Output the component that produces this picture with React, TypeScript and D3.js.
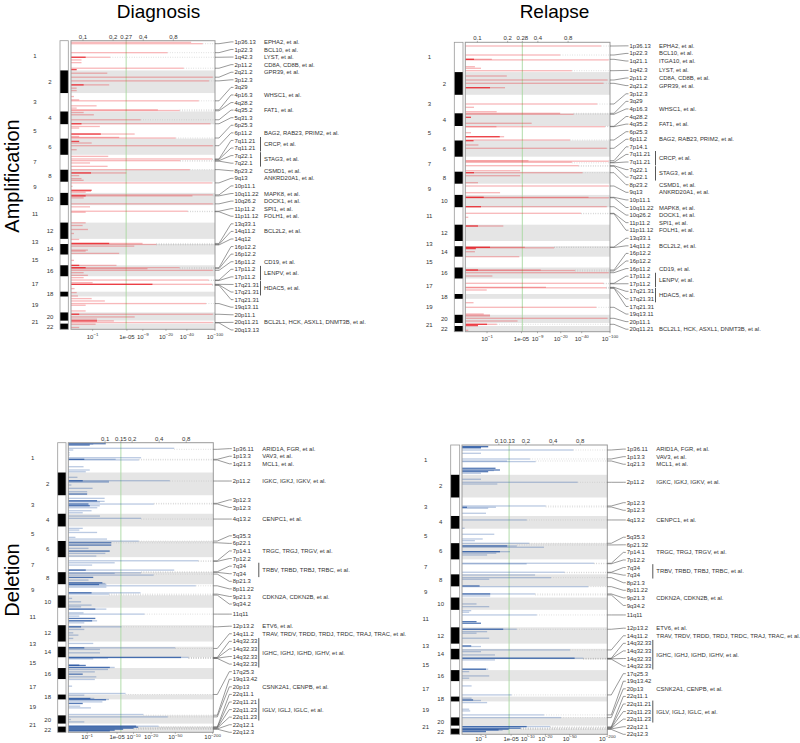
import React from 'react';
import * as d3 from 'd3';

type Bar = number[];
type Peak = [number, string];
type Gene = [number, number, string];

// relative chromosome sizes (marker units)
const CHROM_SIZES = [29.8, 22.7, 18.5, 12.7, 14.5, 16.2, 15, 12, 11.2, 12.3, 17.5, 16.3, 5.2, 10.5, 10.8, 11, 15.5, 4.8, 16, 8.2, 3, 5.7];

// ---------- Diagnosis amplification ----------
const DX_AMP_BARS: Bar[] = [
  [1.6,46],[3.0,67],[12,21],[16.6,0.6,1],[16.6,2.5],[19.3,0.4],[22,0.4],[27.6,36],[29,0.2,1],[32.6,2.2],[36.6,93],[40.3,82],[44.3,2.4],[44.3,0.5,1],[47.6,0.2],[50,0.2],[56,0.1],[59.3,0.3],[60.3,59],[65.3,1.27],[67.6,0.2],[69.3,15.2],[70,31.5],[72,0.5],[74.3,1.08],[79.3,8.3],[83.3,86],[83.3,0.4,1],[86,1.52],[87.6,0.3],[93.6,6.7],[93.6,1.6,1],[96,0.3],[97,3.68],[97.6,27.6],[101,0.3,1],[102.6,0.94],[105.3,93],[109.3,0.2],[116,2.3],[118.6,91],[120.3,32],[122.6,0.84],[126,2.23],[129.3,44],[132.6,4.9],[132.6,0.9,1],[135.3,0.3],[138.3,0.4],[140,0.5],[142.6,91],[146,0.05],[150,0.94,1],[151,0.9],[152,0.6],[154.6,93],[155.6,48],[155.6,0.6,1],[157.6,0.5],[163.6,93],[166.6,0.84],[171,41],[172,0.6],[182.6,0.6],[185.3,0.45],[189.3,0.72],[193.3,0.1],[199.3,0.3],[203.3,2.4,1],[203.3,8.9],[204.3,14.4],[206,6.6],[210,0.72],[211,0.6],[213.3,3.68],[220.3,0.1],[225.3,3.3],[225.3,0.3,1],[227.6,31.5],[227.6,0.6,1],[228.6,10.6],[230.3,93],[232.6,0.5],[235.3,0.72],[237.6,0.5],[240,81],[242.6,1.0],[244.3,91],[244.3,12.6,1],[248.6,0.12],[252.6,0.2],[256,0.25],[258.6,0.94],[261,1.96],[263.6,75],[265.3,0.6],[271,0.6],[274.3,93],[274.3,0.3,1],[277,6.7],[279.3,1.3],[281,2.95],[281,1.3,1],[282.6,93],[284.3,1.2],[287.6,0.3]
];
const DX_AMP_PEAKS: Peak[] = [
  [3.0,'1p36.13'],[12,'1p22.3'],[16.6,'1q42.3'],[27.6,'2p11.2'],[36.6,'2q21.2'],[40.3,'3p12.3'],[60.3,'3q29'],[69.3,'4p16.3'],[70.3,'4q28.2'],[79.3,'4q35.2'],[83.3,'5q31.3'],[97.6,'6p25.3'],[105.3,'6p11.2'],[118.6,'7q11.21'],[119.1,'7q11.21'],[120.3,'7q22.1'],[120.8,'7q22.1'],[129.3,'8p23.2'],[142.6,'9q13'],[154.6,'10p11.1'],[155.6,'10q11.22'],[163.6,'10q26.2'],[171,'11p11.2'],[171.5,'11p11.12'],[203.3,'13q33.1'],[204.3,'14q11.2'],[204.8,'14q12'],[227.6,'16p12.2'],[228.6,'16p12.2'],[230.3,'16p11.2'],[240,'17p11.2'],[240.5,'17p11.2'],[244.3,'17q21.31'],[244.8,'17q21.31'],[245.3,'17q21.31'],[263.6,'19q13.11'],[274.3,'20p11.1'],[282.6,'20q11.21'],[283,'20q13.13']
];
const DX_AMP_GENES: Gene[] = [
  [0,0,'EPHA2, et al.'],[1,1,'BCL10, et al.'],[2,2,'LYST, et al.'],[3,3,'CD8A, CD8B, et al.'],[4,4,'GPR39, et al.'],[7,7,'WHSC1, et al.'],[9,9,'FAT1, et al.'],[12,12,'BAG2, RAB23, PRIM2, et al.'],[13,14,'CRCP, et al.'],[15,16,'STAG3, et al.'],[17,17,'CSMD1, et al.'],[18,18,'ANKRD20A1, et al.'],[20,20,'MAPK8, et al.'],[21,21,'DOCK1, et al.'],[22,22,'SPI1, et al.'],[23,23,'FOLH1, et al.'],[25,25,'BCL2L2, et al.'],[29,29,'CD19, et al.'],[30,31,'LENPV, et al.'],[32,33,'HDAC5, et al.'],[37,37,'BCL2L1, HCK, ASXL1, DNMT3B, et al.']
];

// ---------- Relapse amplification ----------
const RL_AMP_BARS: Bar[] = [
  [3.7,75],[12.7,19.6],[17,0.32,1],[17,1.33],[17.6,96],[24.4,0.36],[26,0.65],[28.4,28.9],[33.7,2.76],[37.7,92],[41,81],[45.4,2.55],[45.4,1.2,1],[61.7,66],[65,0.32],[69.4,1.72],[71,19.6],[72,30.6],[75,0.2,1],[81,7.3],[84.4,85],[84.4,1.7],[90.4,0.2],[94.4,2.45],[94.4,2.0,1],[97.7,27.2],[98.4,0.3,1],[102.7,0.52],[106,90],[118.4,6.5],[118.9,96],[120,28.9],[123.4,36],[128.4,4.75],[130.4,41],[130.4,0.32,1],[133.4,4.75],[140.4,0.5],[143.7,96],[150.4,2.03],[155,50],[155,0.8,1],[155.5,96],[164.4,0.65,1],[164.4,90],[171,39],[175,0.1],[183.7,0.5,1],[183.7,2.36],[205,1.2,1],[205,5.7],[205.5,16],[206.3,0.4,1],[209.4,0.36],[214.4,4.6],[227.7,0.5,1],[227.7,10.1],[228.2,32],[230.4,96],[233.7,1.37],[241,81],[245,12.1],[245.5,88],[247.7,0.98],[260.4,0.3],[265,64],[271.7,0.8],[272.7,1.2],[273.7,1.2],[276,92],[278.7,4.3],[282,1.0,1],[282,1.73],[283.3,0.5,1],[288,0.1]
];
const RL_AMP_PEAKS: Peak[] = [
  [3.7,'1p36.13'],[12.7,'1p22.3'],[17,'1q21.1'],[28.4,'1q42.3'],[37.7,'2p11.2'],[41,'2q21.2'],[61.7,'3p12.3'],[71,'3q29'],[72,'4p16.3'],[84,'4q28.2'],[84.4,'4q35.2'],[97.7,'6p25.3'],[106,'6p11.2'],[118.4,'7p14.1'],[120,'7q11.21'],[120.5,'7q11.21'],[123.4,'7q22.1'],[123.9,'7q22.1'],[130.4,'8p23.2'],[143.7,'9q13'],[155,'10p11.1'],[155.5,'10q11.22'],[164.4,'10q26.2'],[171,'11p11.2'],[171.5,'11p11.12'],[204.7,'13q33.1'],[205.2,'14q11.2'],[227.7,'16p12.2'],[228.7,'16p12.2'],[230.4,'16p11.2'],[241,'17p11.2'],[241.5,'17p11.2'],[245,'17q21.31'],[245.5,'17q21.31'],[246,'17q21.31'],[265,'19q13.11'],[276,'20p11.1'],[282,'20q11.21']
];
const RL_AMP_GENES: Gene[] = [
  [0,0,'EPHA2, et al.'],[1,1,'BCL10, et al.'],[2,2,'ITGA10, et al.'],[3,3,'LYST, et al.'],[4,4,'CD8A, CD8B, et al.'],[5,5,'GPR39, et al.'],[8,8,'WHSC1, et al.'],[10,10,'FAT1, et al.'],[12,12,'BAG2, RAB23, PRIM2, et al.'],[14,15,'CRCP, et al.'],[16,17,'STAG3, et al.'],[18,18,'CSMD1, et al.'],[19,19,'ANKRD20A1, et al.'],[21,21,'MAPK8, et al.'],[22,22,'DOCK1, et al.'],[23,23,'SPI1, et al.'],[24,24,'FOLH1, et al.'],[26,26,'BCL2L2, et al.'],[29,29,'CD19, et al.'],[30,31,'LENPV, et al.'],[32,33,'HDAC5, et al.'],[37,37,'BCL2L1, HCK, ASXL1, DNMT3B, et al.']
];

// ---------- Diagnosis deletion ----------
const DX_DEL_BARS: Bar[] = [
  [1,2.96,1],[1.5,1.5],[2.3,1.2,1],[5.6,48],[7.3,0.2],[10,0.05],[12.3,0.05],[15,13.5],[16.6,4.7],[17.2,12.3],[16.6,0.8,1],[24,0.75],[27.3,1.2],[29,0.9],[34.6,0.4],[38,40.7],[38.6,3.46],[38,0.7,1],[39.6,3.46],[42.3,0.12],[45.6,1.44],[49,1.0],[51.3,1.0,1],[55.6,2.8],[58,1.88,1],[58.6,2.8],[59.3,2.2],[61.3,22.1],[61.3,1.1,1],[63,2.18],[63,1.2,1],[65,1.9],[68,1.35],[70,0.7],[73.3,2.2],[75.6,13.5],[85.6,0.7],[87.3,0.5],[89.7,1.88],[94.6,0.3],[96.3,3.15],[98.3,12.3],[100,3.85,1],[102.3,3.85,1],[105.6,1.1],[108.3,3.58,1],[110.6,2.9],[113.3,1.8],[118,118],[120,4.5],[122.3,1.4],[127.3,48],[127.3,0.9,1],[130,13.5],[130.6,4.5],[132.3,22],[134.6,1.5,1],[137.3,1.1],[140,2.5,1],[140.7,2.9],[141.7,3.05],[141.7,2.1,1],[143,107],[144.3,3.05],[150,13.2],[150,1.35,1],[151.3,3.46],[155.6,0.15],[159,0.6],[162.3,1.35],[164,0.6],[166.3,3.05],[166.3,1.7,1],[170,0.75],[171.3,15.4],[173.3,0.5],[175.6,1.7,1],[178,1.88],[178,1.4,1],[180,0.8],[184,6],[184,0.6,1],[186.6,0.8],[190,0.2],[192.3,0.45],[195.6,0.2],[200.6,1.5],[205,50],[205,0.8,1],[206.6,2.2],[210,2.2],[214.6,82],[214.6,62,1],[215.3,3.3],[216,1.5],[222.3,0.5,1],[222.6,0.9,1],[224.6,4.5],[224.6,3.6,1],[226.6,3.3],[229,1.65],[231.3,0.7,1],[234,1.8],[236.6,1.65],[243.3,0.15],[250.6,7.2],[252.3,0.8],[255.6,1.6],[255.6,1.25,1],[256.6,3.46],[256.9,3.0,1],[259,2.5],[260.6,0.7,1],[263.3,0.55],[265,1.3],[271.6,14.8],[274,37.5],[276.6,0.1],[279,0.8],[283.3,11.1,1],[283.3,26.6],[284.3,12,1],[285.3,10,1],[286.3,6.5,1],[287.3,4.5,1],[288,3.6,1]
];
const DX_DEL_PEAKS: Peak[] = [
  [6.6,'1p36.11'],[16.6,'1p13.3'],[17.3,'1q21.3'],[38.3,'2p11.2'],[60.6,'3p12.3'],[61.3,'3p12.3'],[76.3,'4q13.2'],[98.3,'5q35.3'],[100,'6p22.1'],[118,'7p14.1'],[118.6,'7p12.2'],[129,'7q34'],[129.6,'7q34'],[131.3,'8p21.3'],[143,'8p11.22'],[151.3,'9p21.3'],[152.3,'9q34.2'],[171.3,'11q11'],[184,'12p13.2'],[205.6,'14q11.2'],[214.6,'14q32.33'],[215,'14q32.33'],[215.3,'14q32.33'],[215.6,'14q32.33'],[251.6,'17q25.3'],[272.3,'19q13.42'],[274,'20p13'],[284,'22q11.1'],[284.3,'22q11.21'],[285,'22q11.23'],[285.3,'22q11.23'],[286,'22q12.1'],[286.3,'22q12.3']
];

// ---------- Relapse deletion ----------
const RL_DEL_BARS: Bar[] = [
  [1.5,1.6,1],[2,1.6],[2.5,1.0,1],[3.3,1.0],[5,57],[8.3,1.0],[14,10.9],[16,4.2],[16.6,13.7],[23.3,2.4,1],[25,3.0,1],[25.6,2.2],[26.7,1.6,1],[28.3,1.0],[34.3,1.0],[37.3,67],[39,2.63],[61,20.2],[62.3,2.45],[62.3,0.2,1],[63.3,1.6],[68.3,1.4],[75,9.6],[83.3,0.1],[89.3,2.25],[94,1.13],[95.7,0.6],[98.3,10.6],[101,6.4],[101,4.2,1],[102.3,18.9],[106.7,4.76],[106.7,3.0,1],[108.3,2.5],[110,1.5],[118.3,122],[118.9,9.6],[127.3,41],[130,13.4],[132.7,24.7],[134.3,1.7],[141,0.9,1],[141.7,99],[149,13.4],[149,1.8,1],[151,1.8],[159,0.7],[161.7,1.7],[165.7,0.4],[167.3,0.3],[170,14.3],[176.7,0.7,1],[178.3,1.0,1],[184.3,6.35],[184.3,3.5,1],[186.7,1.5],[188.3,0.7],[193.3,1.7],[201,0.4,1],[201.6,1.0],[205,50.5],[206.7,1.0],[210,2.33],[213.3,82.6],[213.3,60,1],[215,2.33],[224.3,1.4,1],[224.3,1.6],[226.7,0.3],[231,1.7],[233.3,0.3],[241,0.42],[250,5.1],[253.3,0.42],[255,0.5,1],[255.6,1.0],[257.7,1.5],[264.3,0.3],[266,0.35],[270,18.9],[272.7,36],[281.7,9.6,1],[281.7,23.9],[283.3,7.5,1],[284.3,4.5,1],[285,2.8,1],[285.3,3.4],[286.7,1.4,1]
];
const RL_DEL_PEAKS: Peak[] = [
  [5,'1p36.11'],[14,'1p13.3'],[16,'1q21.3'],[37.3,'2p11.2'],[61,'3p12.3'],[62,'3p12.3'],[75,'4q13.2'],[98.3,'5q35.3'],[100,'6p21.32'],[118.3,'7p14.1'],[118.8,'7p12.2'],[127.3,'7q34'],[127.8,'7q34'],[132.7,'8p21.3'],[141.7,'8p11.22'],[149,'9p21.3'],[150,'9q34.2'],[170,'11q11'],[184.3,'12p13.2'],[205,'14q11.2'],[213.3,'14q32.33'],[213.6,'14q32.33'],[213.9,'14q32.33'],[214.2,'14q32.33'],[250,'17q25.3'],[270,'19q13.42'],[272.7,'20p13'],[282,'22q11.1'],[282.5,'22q11.21'],[283,'22q11.23'],[283.5,'22q11.23'],[284,'22q12.1'],[284.5,'22q12.3']
];
const DEL_GENES: Gene[] = [
  [0,0,'ARID1A, FGR, et al.'],[1,1,'VAV3, et al.'],[2,2,'MCL1, et al.'],[3,3,'IGKC, IGKJ, IGKV, et al.'],[6,6,'CENPC1, et al.'],[9,9,'TRGC, TRGJ, TRGV, et al.'],[11,12,'TRBV, TRBD, TRBJ, TRBC, et al.'],[15,15,'CDKN2A, CDKN2B, et al.'],[18,18,'ETV6, et al.'],[19,19,'TRAV, TRDV, TRDD, TRDJ, TRDC, TRAJ, TRAC, et al.'],[20,23,'IGHC, IGHJ, IGHD, IGHV, et al.'],[26,26,'CSNK2A1, CENPB, et al.'],[28,30,'IGLV, IGLJ, IGLC, et al.']
];

// axis ticks
const G_TICKS_DX_AMP = [0.1, 0.2, 0.27, 0.4, 0.8];
const G_TICKS_RL_AMP = [0.1, 0.2, 0.28, 0.4, 0.8];
const G_TICKS_DX_DEL = [0.1, 0.15, 0.2, 0.4, 0.8];
const G_TICKS_RL_DEL = [0.1, 0.13, 0.2, 0.4, 0.8];
const Q_TICKS_AMP = [1, 5, 9, 20, 40, 100];
const Q_TICKS_DEL = [1, 5, 10, 20, 50, 200];

const FONT = "'Liberation Sans', Arial, Helvetica, sans-serif";

function repel(targets: number[], gap: number, lo: number, hi: number): number[] {
  type C = { i0: number; n: number; sum: number };
  const cs: C[] = [];
  const topOf = (c: C) => Math.max(lo, Math.min(c.sum / c.n, hi - (c.n - 1) * gap));
  targets.forEach((t, i) => {
    cs.push({ i0: i, n: 1, sum: t });
    while (cs.length > 1) {
      const b = cs[cs.length - 1], a = cs[cs.length - 2];
      if (topOf(a) + a.n * gap > topOf(b)) {
        a.sum = a.sum + b.sum - b.n * a.n * gap;
        a.n += b.n;
        cs.pop();
      } else break;
    }
  });
  const out: number[] = new Array(targets.length);
  cs.forEach(c => {
    const t = topOf(c);
    for (let j = 0; j < c.n; j++) out[c.i0 + j] = t + j * gap;
  });
  return out;
}

interface PanelProps {
  ideoX0: number; ideoX1: number; x0: number; x1: number; top: number; bottom: number;
  bars: Bar[]; peaks: Peak[]; genes: Gene[];
  gTicks: number[]; gDomain: [number, number]; threshold: number;
  qTicks: number[]; qMax: number; qLabelOffset: number; color: string;
}

function Panel(p: PanelProps) {
  const total = d3.sum(CHROM_SIZES);
  const ends = d3.cumsum(CHROM_SIZES);
  const starts = CHROM_SIZES.map((s, i) => ends[i] - s);
  const y = d3.scaleLinear().domain([0, total]).range([p.top, p.bottom]);
  const xq = d3.scaleLog().domain([1, 1 + p.qMax]).range([p.x0, p.x1]);
  const xg = d3.scaleLog().domain(p.gDomain).range([p.x0, p.x1]);
  const labelY = repel(p.peaks.map(d => y(d[0])), 7.58, p.top + 1.2, p.bottom);
  // start of the dotted guide for each peak: end of the longest bar near that peak
  const dotStart = p.peaks.map(d => {
    const near = p.bars.filter(b => Math.abs(b[0] - d[0]) <= 1.2).map(b => b[1]);
    const m = near.length ? (d3.max(near) as number) : 0;
    return xq(1 + m);
  });
  const fs = 5.9;
  const qy = p.bottom + p.qLabelOffset;
  return (
    <g fontFamily={FONT}>
      {/* chromosome bands */}
      {CHROM_SIZES.map((s, i) => (i % 2 === 1 ? (
        <rect key={'band' + i} x={p.x0} y={y(starts[i])} width={p.x1 - p.x0} height={y(ends[i]) - y(starts[i])} fill="#e5e5e5" />
      ) : null))}
      {/* ideogram */}
      <rect x={p.ideoX0} y={p.top} width={p.ideoX1 - p.ideoX0} height={p.bottom - p.top} fill="#fff" />
      {CHROM_SIZES.map((s, i) => (i % 2 === 1 ? (
        <rect key={'ideo' + i} x={p.ideoX0} y={y(starts[i])} width={p.ideoX1 - p.ideoX0} height={y(ends[i]) - y(starts[i])} fill="#000" />
      ) : null))}
      <rect x={p.ideoX0} y={p.top} width={p.ideoX1 - p.ideoX0} height={p.bottom - p.top} fill="none" stroke="#999" strokeWidth={0.8} />
      {CHROM_SIZES.map((s, i) => (
        <text key={'cn' + i} x={i % 2 === 0 ? p.ideoX0 - 25 : p.ideoX0 - 10} y={y(starts[i] + s / 2)} dy="0.35em"
          textAnchor="middle" fontSize={6} fill="#333">{i + 1}</text>
      ))}
      {/* threshold */}
      <line x1={xg(p.threshold)} x2={xg(p.threshold)} y1={p.top} y2={p.bottom} stroke="#a8d8a0" strokeWidth={0.9} />
      {/* dotted peak lines */}
      {p.peaks.map((d, i) => (
        <line key={'dl' + i} x1={dotStart[i]} x2={p.x1} y1={y(d[0])} y2={y(d[0])} stroke="#b0b0b0" strokeWidth={0.5} strokeDasharray="0.8 1.6" />
      ))}
      {/* bars */}
      {p.bars.map((b, i) => (
        <rect key={'b' + i} x={p.x0} y={y(b[0]) - 0.65} width={Math.max(0.6, xq(1 + b[1]) - p.x0)} height={1.3}
          fill={p.color} fillOpacity={b[2] ? 0.75 : 0.3} />
      ))}
      <rect x={p.x0} y={p.top} width={p.x1 - p.x0} height={p.bottom - p.top} fill="none" stroke="#999" strokeWidth={1} />
      {/* top axis */}
      {p.gTicks.map(g => (
        <g key={'gt' + g}>
          <line x1={xg(g)} x2={xg(g)} y1={p.top - 1.5} y2={p.top} stroke="#666" strokeWidth={0.5} />
          <text x={xg(g)} y={p.top - 2.2} textAnchor="middle" fontSize={6} fill="#333">{String(g)}</text>
        </g>
      ))}
      {/* bottom axis */}
      {p.qTicks.map(q => (
        <g key={'qt' + q}>
          <line x1={xq(1 + q)} x2={xq(1 + q)} y1={p.bottom} y2={p.bottom + 1.5} stroke="#666" strokeWidth={0.5} />
          {q === 5 ? (
            <text x={xq(1 + q)} y={qy} textAnchor="middle" fontSize={6} fill="#333">1e-05</text>
          ) : (
            <text x={xq(1 + q)} y={qy} textAnchor="middle" fontSize={6} fill="#333">
              <tspan>10</tspan><tspan dy={-2.8} fontSize={4.4}>{'−' + q}</tspan>
            </text>
          )}
        </g>
      ))}
      {/* leaders and labels */}
      {p.peaks.map((d, i) => {
        const yp = y(d[0]), yl = labelY[i];
        return (
          <g key={'pk' + i}>
            <path d={`M${p.x1},${yp}H${p.x1 + 4}L${p.x1 + 16},${yl}H${p.x1 + 18.5}`} fill="none" stroke="#555" strokeWidth={0.6} />
            <text x={p.x1 + 19.5} y={yl} dy="0.35em" fontSize={fs} fill="#333">{d[1]}</text>
          </g>
        );
      })}
      {p.genes.map((g, i) => {
        const ya = labelY[g[0]], yb = labelY[g[1]];
        return (
          <g key={'gn' + i}>
            {g[1] > g[0] ? (
              <line x1={p.x1 + 45.5} x2={p.x1 + 45.5} y1={ya - 3.4} y2={yb + 3.4} stroke="#444" strokeWidth={0.9} />
            ) : null}
            <text x={p.x1 + 49} y={(ya + yb) / 2} dy="0.35em" fontSize={fs} fill="#333">{g[2]}</text>
          </g>
        );
      })}
    </g>
  );
}

export default function App() {
  const AMP = '#e8141c';
  const DEL = '#1f4f9e';
  return (
    <svg width={800} height={743} style={{ position: 'absolute', left: 0, top: 0, background: '#fff' }}>
      <rect width={800} height={743} fill="#fff" />
      <text x={158.5} y={17.5} textAnchor="middle" fontSize={19} fontFamily={FONT} fill="#000">Diagnosis</text>
      <text x={554.5} y={17.5} textAnchor="middle" fontSize={19} fontFamily={FONT} fill="#000">Relapse</text>
      <text transform="translate(18.5,176) rotate(-90)" textAnchor="middle" fontSize={20} fontFamily={FONT} fill="#000">Amplification</text>
      <text transform="translate(18.5,580) rotate(-90)" textAnchor="middle" fontSize={20} fontFamily={FONT} fill="#000">Deletion</text>
      <Panel ideoX0={60} ideoX1={68.3} x0={71} x1={215} top={40.7} bottom={329.3}
        bars={DX_AMP_BARS} peaks={DX_AMP_PEAKS} genes={DX_AMP_GENES}
        gTicks={G_TICKS_DX_AMP} gDomain={[0.0758, 2.09]} threshold={0.27}
        qTicks={Q_TICKS_AMP} qMax={100} qLabelOffset={9.2} color={AMP} />
      <Panel ideoX0={454.3} ideoX1={463} x0={465.3} x1={610} top={42.3} bottom={331.7}
        bars={RL_AMP_BARS} peaks={RL_AMP_PEAKS} genes={RL_AMP_GENES}
        gTicks={G_TICKS_RL_AMP} gDomain={[0.0758, 2.09]} threshold={0.28}
        qTicks={Q_TICKS_AMP} qMax={100} qLabelOffset={9.2} color={AMP} />
      <Panel ideoX0={57.7} ideoX1={66} x0={68.3} x1={213.3} top={442.7} bottom={732.3}
        bars={DX_DEL_BARS} peaks={DX_DEL_PEAKS} genes={DEL_GENES}
        gTicks={G_TICKS_DX_DEL} gDomain={[0.039, 1.6]} threshold={0.15}
        qTicks={Q_TICKS_DEL} qMax={205} qLabelOffset={7.1} color={DEL} />
      <Panel ideoX0={450.7} ideoX1={459.7} x0={462} x1={607.3} top={445} bottom={734.3}
        bars={RL_DEL_BARS} peaks={RL_DEL_PEAKS} genes={DEL_GENES}
        gTicks={G_TICKS_RL_DEL} gDomain={[0.039, 1.6]} threshold={0.13}
        qTicks={Q_TICKS_DEL} qMax={200} qLabelOffset={6.9} color={DEL} />
    </svg>
  );
}
